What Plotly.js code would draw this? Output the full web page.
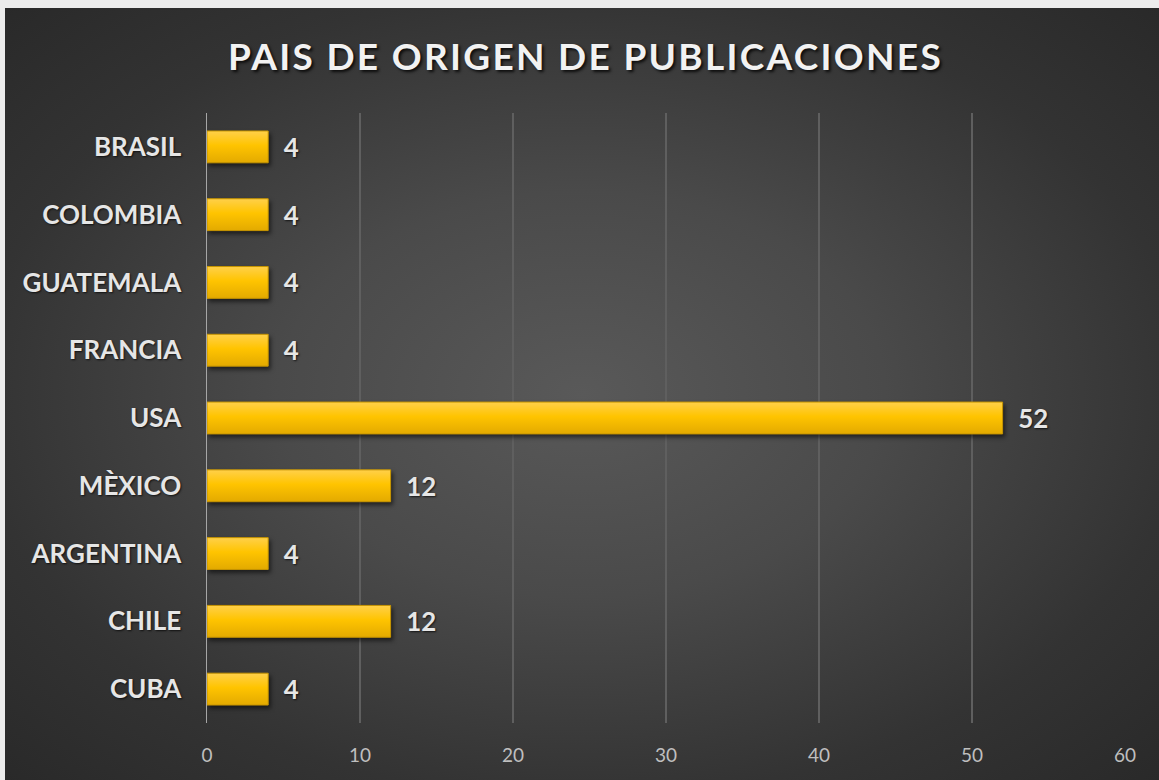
<!DOCTYPE html>
<html>
<head>
<meta charset="utf-8">
<script src="https://cdn.plot.ly/plotly-3.0.1.min.js"></script>
<style>
  html, body { margin: 0; padding: 0; background: #ececec; width: 1159px; height: 780px; overflow: hidden; }
  #chart {
    position: absolute; left: 5px; top: 8px; width: 1154px; height: 772px;
    background: radial-gradient(ellipse 75% 75% at 50% 50%, #595959 0%, #4a4a4a 35%, #333333 70%, #272727 100%);
  }
  #chart .gtitle { letter-spacing: 2.3px; }
  #chart .bars .point path {
    fill: url(#barGrad) !important;
    filter: drop-shadow(2px 3px 2px rgba(0,0,0,0.55));
  }
</style>
</head>
<body>
<svg width="0" height="0" style="position:absolute">
  <defs>
    <linearGradient id="barGrad" x1="0" y1="0" x2="0" y2="1">
      <stop offset="0" stop-color="#FFD04A"/>
      <stop offset="0.45" stop-color="#FFC400"/>
      <stop offset="1" stop-color="#E3AA00"/>
    </linearGradient>
  </defs>
</svg>
<div id="chart"></div>
<script>
const categories = ["BRASIL", "COLOMBIA", "GUATEMALA", "FRANCIA", "USA", "MÈXICO", "ARGENTINA", "CHILE", "CUBA"];
const values = [4, 4, 4, 4, 52, 12, 4, 12, 4];
const xTicks = [0, 10, 20, 30, 40, 50, 60];
const chartTitle = "PAIS DE ORIGEN DE PUBLICACIONES";

const FONT = "Lato, 'Open Sans', sans-serif";
const shadow = "1px 1px 2px rgba(0,0,0,0.7)";

const trace = {
  type: "bar",
  orientation: "h",
  x: values,
  y: categories,
  marker: { color: "#FFC000", line: { color: "#C79500", width: 1 } },
  text: values.map(String),
  texttemplate: "\u00a0\u00a0%{text}",
  textposition: "outside",
  cliponaxis: false,
  textfont: { family: FONT, size: 26, color: "#E6E6E6", weight: 700, shadow: shadow },
  hoverinfo: "skip"
};

const layout = {
  width: 1154,
  height: 772,
  paper_bgcolor: "rgba(0,0,0,0)",
  plot_bgcolor: "rgba(0,0,0,0)",
  margin: { l: 202, r: 34, t: 105, b: 57 },
  bargap: 0.53,
  showlegend: false,
  title: {
    text: chartTitle,
    font: { family: FONT, size: 37, color: "#F2F2F2", weight: 700, shadow: "2px 2px 3px rgba(0,0,0,0.8)" },
    x: 0.503, xanchor: "center",
    y: 1 - 49 / 772, yref: "container", yanchor: "middle"
  },
  xaxis: {
    range: [0, 60],
    tickvals: xTicks,
    ticktext: xTicks.map(String),
    showgrid: true,
    gridcolor: "#5f5f5f",
    gridwidth: 1.5,
    zeroline: false,
    showline: false,
    ticks: "",
    ticklabelstandoff: 19,
    tickfont: { family: FONT, size: 19, color: "#BFBFBF" },
    fixedrange: true
  },
  yaxis: {
    type: "category",
    autorange: "reversed",
    showgrid: false,
    zeroline: false,
    showline: true,
    linecolor: "#A6A6A6",
    linewidth: 1.5,
    ticks: "",
    ticklabelstandoff: 19,
    tickfont: { family: FONT, size: 26, color: "#E6E6E6", weight: 700, shadow: shadow },
    fixedrange: true
  }
};

Plotly.newPlot("chart", [trace], layout, { displayModeBar: false, staticPlot: true });
</script>
</body>
</html>
